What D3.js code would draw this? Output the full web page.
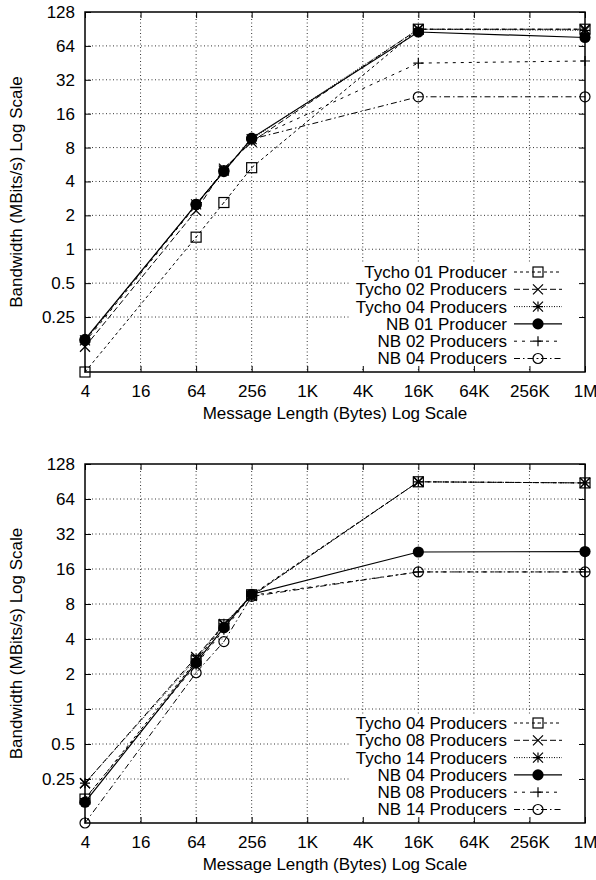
<!DOCTYPE html>
<html>
<head>
<meta charset="utf-8">
<script src="https://cdn.jsdelivr.net/npm/d3@7"></script>
<style>
  body { margin: 0; background: white; }
  text { font-family: "Liberation Sans", Arial, sans-serif; fill: #000; }
</style>
</head>
<body>
<script>
// message lengths (bytes) where measurements were taken
var msgLengths = [4, 64, 128, 256, 16384, 1048576];

// x tick values and labels
var xTicks = [4, 16, 64, 256, 1024, 4096, 16384, 65536, 262144, 1048576];
var xTickLabels = ["4", "16", "64", "256", "1K", "4K", "16K", "64K", "256K", "1M"];

// y ticks
var yTicks = [0.25, 0.5, 1, 2, 4, 8, 16, 32, 64, 128];
var yTickLabels = ["0.25", "0.5", "1", "2", "4", "8", "16", "32", "64", "128"];

// top chart series (MBits/s)
var topNames = ["Tycho 01 Producer", "Tycho 02 Producers", "Tycho 04 Producers",
  "NB 01 Producer", "NB 02 Producers", "NB 04 Producers"];
var tycho01 = [0.0812, 1.28, 2.6, 5.3, 90, 90];
var tycho02 = [0.136, 2.2, 5.2, 9.0, 90, 90];
var tycho04 = [0.155, 2.5, 5.0, 9.5, 90, 88];
var nb01 = [0.158, 2.5, 4.9, 9.7, 85, 76];
var nb02 = [0.15, 2.45, 4.9, 9.4, 45, 47];
var nb04 = [0.155, 2.5, 5.0, 9.5, 22.6, 22.6];

// bottom chart series (MBits/s)
var bottomNames = ["Tycho 04 Producers", "Tycho 08 Producers", "Tycho 14 Producers",
  "NB 04 Producers", "NB 08 Producers", "NB 14 Producers"];
var tycho04b = [0.168, 2.6, 5.3, 9.6, 90, 88];
var tycho08 = [0.23, 2.8, 5.3, 9.4, 90, 88];
var tycho14 = [0.23, 2.7, 5.4, 9.4, 90, 88];
var nb04b = [0.158, 2.5, 5.0, 9.7, 22.4, 22.6];
var nb08 = [0.17, 2.4, 4.8, 9.5, 15.1, 15.1];
var nb14 = [0.1046, 2.05, 3.8, 9.3, 15.1, 15.1];

// line style per series slot: dash pattern, marker
var styles = [
  { dash: "3,3", marker: "square", width: 1 },
  { dash: "6,3", marker: "cross", width: 1 },
  { dash: "1,1.5", marker: "star", width: 1 },
  { dash: null, marker: "dot", width: 1.2 },
  { dash: "3,5", marker: "plus", width: 1 },
  { dash: "6,3,1.5,3", marker: "circle", width: 1 }
];

var W = 596, H = 880;
var fs = "17px";
var svg = d3.select("body").append("svg")
  .attr("width", W)
  .attr("height", H);

function drawMarker(g, type, x, y) {
  var s = 5;
  if (type == "square") {
    g.append("rect").attr("x", x - s).attr("y", y - s).attr("width", 2 * s).attr("height", 2 * s)
      .attr("fill", "none").attr("stroke", "#000").attr("stroke-width", 1.2);
    g.append("circle").attr("cx", x).attr("cy", y).attr("r", 0.6).attr("fill", "#000");
  } else if (type == "cross") {
    g.append("path").attr("d", "M" + (x - s) + "," + (y - s) + "L" + (x + s) + "," + (y + s) +
      "M" + (x - s) + "," + (y + s) + "L" + (x + s) + "," + (y - s))
      .attr("stroke", "#000").attr("stroke-width", 1.2);
  } else if (type == "star") {
    g.append("path").attr("d", "M" + (x - s) + "," + (y - s) + "L" + (x + s) + "," + (y + s) +
      "M" + (x - s) + "," + (y + s) + "L" + (x + s) + "," + (y - s) +
      "M" + (x - s) + "," + y + "L" + (x + s) + "," + y +
      "M" + x + "," + (y - s) + "L" + x + "," + (y + s))
      .attr("stroke", "#000").attr("stroke-width", 1.2);
  } else if (type == "dot") {
    g.append("circle").attr("cx", x).attr("cy", y).attr("r", 5.6).attr("fill", "#000");
  } else if (type == "plus") {
    g.append("path").attr("d", "M" + (x - s) + "," + y + "L" + (x + s) + "," + y +
      "M" + x + "," + (y - s) + "L" + x + "," + (y + s))
      .attr("stroke", "#000").attr("stroke-width", 1.2);
  } else if (type == "circle") {
    g.append("circle").attr("cx", x).attr("cy", y).attr("r", 5)
      .attr("fill", "none").attr("stroke", "#000").attr("stroke-width", 1.2);
    g.append("circle").attr("cx", x).attr("cy", y).attr("r", 0.6).attr("fill", "#000");
  }
}

function drawPanel(top, height, yMin, names, series) {
  var left = 85, width = 500;
  var x = d3.scaleLog().base(2).domain([4, 1048576]).range([left, left + width]);
  var y = d3.scaleLog().base(2).domain([yMin, 128]).range([top + height, top]);

  var g = svg.append("g");

  // grid
  g.selectAll(".vgrid").data(xTicks.slice(1, -1)).enter().append("line")
    .attr("x1", function(d) { return x(d); }).attr("x2", function(d) { return x(d); })
    .attr("y1", top).attr("y2", top + height)
    .attr("stroke", "#000").attr("stroke-width", 0.8).attr("stroke-dasharray", "1,2.5");
  g.selectAll(".hgrid").data(yTicks.slice(0, -1)).enter().append("line")
    .attr("x1", left).attr("x2", left + width)
    .attr("y1", function(d) { return y(d); }).attr("y2", function(d) { return y(d); })
    .attr("stroke", "#000").attr("stroke-width", 0.8).attr("stroke-dasharray", "1,2.5");

  // data lines
  var line = d3.line()
    .x(function(d, i) { return x(msgLengths[i]); })
    .y(function(d) { return y(d); });

  series.forEach(function(vals, k) {
    var st = styles[k];
    g.append("path")
      .datum(vals)
      .attr("d", line)
      .attr("fill", "none")
      .attr("stroke", "#000")
      .attr("stroke-width", st.width)
      .attr("stroke-dasharray", st.dash);
    vals.forEach(function(v, i) {
      drawMarker(g, st.marker, x(msgLengths[i]), y(v));
    });
  });

  // legend
  var lx = 507, ly0 = top + height - 100, dy = 17.3;
  g.append("rect")
    .attr("x", 350).attr("y", ly0 - 9).attr("width", 230).attr("height", dy * 5 + 18)
    .attr("fill", "white");
  names.forEach(function(n, k) {
    var st = styles[k];
    var yy = ly0 + k * dy;
    g.append("text").attr("x", lx).attr("y", yy).attr("dy", "0.35em")
      .attr("text-anchor", "end").style("font-size", fs).text(n);
    g.append("line").attr("x1", 514).attr("x2", 562).attr("y1", yy).attr("y2", yy)
      .attr("stroke", "#000").attr("stroke-width", st.width).attr("stroke-dasharray", st.dash);
    drawMarker(g, st.marker, 538, yy);
  });

  // frame axes with inward ticks on all sides
  var tl = 6;
  g.append("g").attr("transform", "translate(0," + (top + height) + ")")
    .call(d3.axisBottom(x).tickValues(xTicks).tickSize(-tl).tickFormat(function(d, i) { return xTickLabels[i]; }))
    .call(function(a) {
      a.select(".domain").remove();
      a.selectAll("text").attr("dy", 0).attr("y", 25).style("font-size", fs).style("font-family", "Liberation Sans, Arial, sans-serif");
    });
  g.append("g").attr("transform", "translate(0," + top + ")")
    .call(d3.axisTop(x).tickValues(xTicks).tickSize(-tl).tickFormat(""))
    .call(function(a) { a.select(".domain").remove(); });
  g.append("g").attr("transform", "translate(" + left + ",0)")
    .call(d3.axisLeft(y).tickValues(yTicks).tickSize(-tl).tickFormat(function(d, i) { return yTickLabels[i]; }))
    .call(function(a) {
      a.select(".domain").remove();
      a.selectAll("text").attr("x", -10).style("font-size", fs).style("font-family", "Liberation Sans, Arial, sans-serif");
    });
  g.append("g").attr("transform", "translate(" + (left + width) + ",0)")
    .call(d3.axisRight(y).tickValues(yTicks).tickSize(-tl).tickFormat(""))
    .call(function(a) { a.select(".domain").remove(); });

  g.selectAll(".tick line").attr("stroke", "#000").attr("stroke-width", 1);

  g.append("rect")
    .attr("x", left).attr("y", top).attr("width", width).attr("height", height)
    .attr("fill", "none").attr("stroke", "#000").attr("stroke-width", 1.5);

  // axis titles
  g.append("text")
    .attr("x", left + width / 2).attr("y", top + height + 47)
    .attr("text-anchor", "middle").style("font-size", fs)
    .text("Message Length (Bytes) Log Scale");
  g.append("text")
    .attr("transform", "translate(22," + (top + height / 2) + ") rotate(-90)")
    .attr("text-anchor", "middle").style("font-size", fs)
    .text("Bandwidth (MBits/s) Log Scale");
}

drawPanel(12, 360, 0.0812, topNames, [tycho01, tycho02, tycho04, nb01, nb02, nb04]);
drawPanel(464, 359, 0.1046, bottomNames, [tycho04b, tycho08, tycho14, nb04b, nb08, nb14]);
</script>
</body>
</html>
